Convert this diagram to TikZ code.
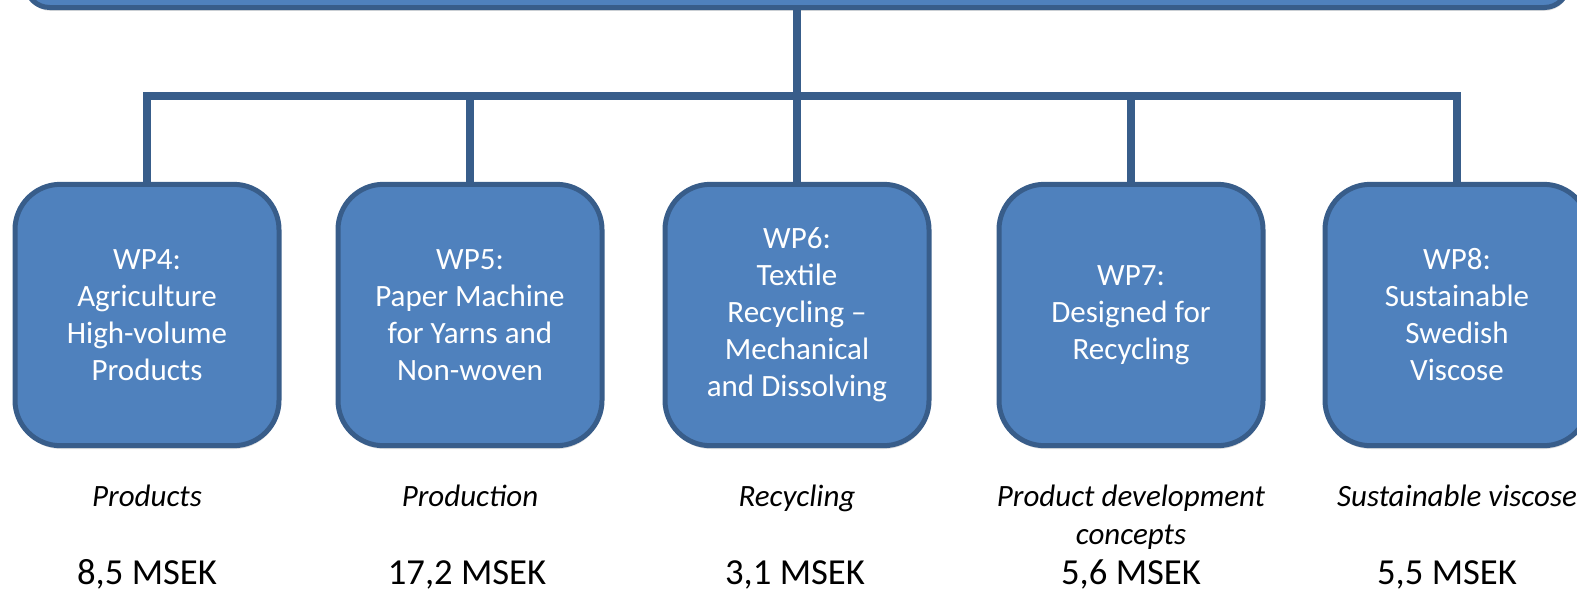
\documentclass[tikz,border=0pt]{standalone}
\usepackage{fontspec}
\setmainfont{Carlito}
\usetikzlibrary{positioning,shadows}
\definecolor{wpfill}{HTML}{4F81BD}
\definecolor{wpline}{HTML}{385D8A}
\tikzset{
  wpbox/.style={draw=wpline, line width=3.75pt, fill=wpfill, rounded corners=34pt,
    minimum width=198pt, minimum height=196pt, align=center, text=white,
    font=\fontsize{23.25}{27.75}\selectfont,
    drop shadow={opacity=0.25, shadow xshift=0.5pt, shadow yshift=-2.5pt}},
  link/.style={draw=wpline, line width=5.5pt},
  note/.style={inner sep=0pt, align=center, font=\fontsize{23.25}{28.5}\selectfont\itshape},
  cost/.style={inner sep=0pt, anchor=base, font=\fontsize{27.5}{33}\selectfont},
}
\begin{document}
\begin{tikzpicture}[x=0.75pt, y=-0.75pt]
        \useasboundingbox (0,0) rectangle (1577,590);
        \node[wpbox, rounded corners=18pt, minimum width=1157pt, minimum height=78.75pt] (top) at (797,-45) {};
        \node[wpbox] (wp4) at (147,315) {WP4:\\Agriculture\\High-volume\\Products};
        \node[wpbox] (wp5) at (470,315) {WP5:\\Paper Machine\\for Yarns and\\Non-woven};
        \node[wpbox] (wp6) at (797,315) {WP6:\\Textile\\Recycling --\\Mechanical\\and Dissolving};
        \node[wpbox] (wp7) at (1131,315) {WP7:\\Designed for\\Recycling};
        \node[wpbox] (wp8) at (1457,315) {WP8:\\Sustainable\\Swedish\\Viscose};
        \coordinate (bus) at (797,96);
        \draw[link] (top.south) -- (bus);
        \foreach \n in {wp4,wp5,wp6,wp7,wp8}
          \draw[link] (bus) -| (\n.north);
        \node[note, below=27.5pt of wp4] (n4) {Products};
        \node[note, below=27.5pt of wp5] (n5) {Production};
        \node[note, below=27.5pt of wp6] (n6) {Recycling};
        \node[note, below=27.5pt of wp7] (n7) {Product development\\concepts};
        \node[note, below=27.5pt of wp8] (n8) {Sustainable viscose};
        \node[cost] (c4) at (147,584) {8,5 MSEK};
        \node[cost] (c5) at (467,584) {17,2 MSEK};
        \node[cost] (c6) at (795,584) {3,1 MSEK};
        \node[cost] (c7) at (1131,584) {5,6 MSEK};
        \node[cost] (c8) at (1447,584) {5,5 MSEK};
      \end{tikzpicture}
\end{document}
